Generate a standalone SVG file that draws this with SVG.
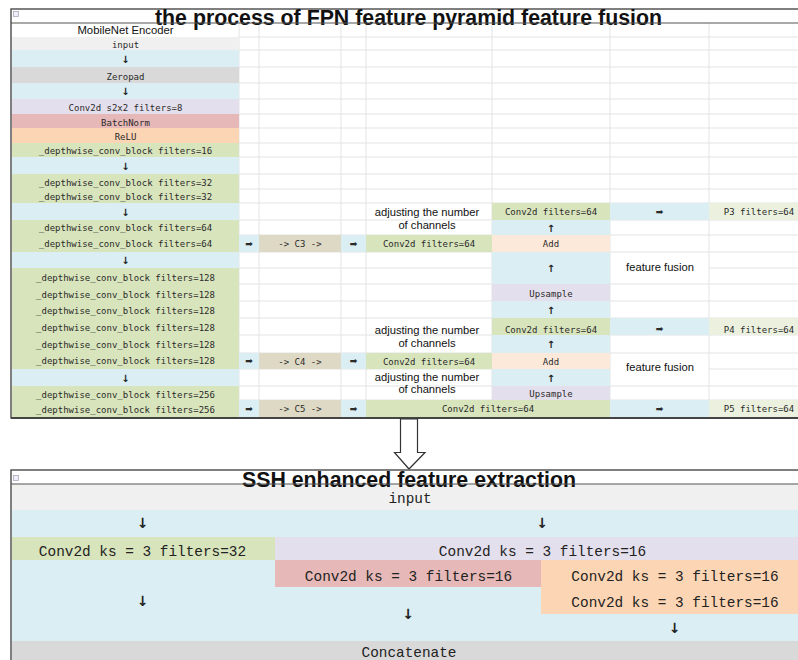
<svg xmlns="http://www.w3.org/2000/svg" width="798" height="660" viewBox="0 0 798 660">
<style>
.m{font-family:"DejaVu Sans Mono","Liberation Mono",monospace;font-size:9px;fill:#2a2a2a;text-anchor:middle}
.L{font-family:"Liberation Mono","DejaVu Sans Mono",monospace;font-size:14.4px;fill:#222;text-anchor:middle}
.s{font-family:"Liberation Sans",Arial,sans-serif;font-size:11.2px;fill:#111;text-anchor:middle}
.t{font-family:"Liberation Sans",Arial,sans-serif;font-size:21.3px;font-weight:bold;fill:#111}
.ar{font-family:"DejaVu Sans",sans-serif;font-weight:bold;font-size:10px;fill:#222;text-anchor:middle}
.arL{font-family:"DejaVu Sans",sans-serif;font-weight:bold;font-size:14px;fill:#222;text-anchor:middle}
.g{stroke:#e3e3e3;stroke-width:1;fill:none}
.frame{fill:none;stroke:#555;stroke-width:1.5}
.blu{fill:#daeef3}.grn{fill:#d8e4bc}.gry{fill:#f0f0f0}.dg{fill:#d9d9d9}.pur{fill:#e4dfec}.red{fill:#e6b8b7}.org{fill:#fcd5b4}.tan{fill:#ddd9c4}.pch{fill:#fde9d9}.pg{fill:#ebf1de}
</style>
<rect width="798" height="660" fill="#fff"/>

<!-- top frame grid -->
<g id="fpn-grid" class="g">
<path d="M239 37H798M239 50H798M239 67H798M239 83H798M239 99H798M239 114H798M239 128H798M239 143H798M239 157H798M239 174H798M239 189H798M239 203H798M239 220H798M239 235H798M239 252H798M239 268H610M709 268H798M239 284H798M239 301H798M239 318H798M239 335H798M239 353H798M239 369H610M709 369H798M239 386H798M239 400H798"/>
<path d="M239 23V417M259 23V417M341 23V417M366 23V417M492 23V417M610 23V417M709 23V417"/>
</g>

<g id="fpn-title">
<rect x="11" y="9" width="790" height="409" class="frame"/>
<rect x="13.5" y="11.5" width="5" height="5" fill="#eef" stroke="#aab" stroke-width="0.8"/>
<text x="155" y="25" class="t" textLength="507" lengthAdjust="spacingAndGlyphs">the process of FPN feature pyramid feature fusion</text>
<line x1="11" y1="23" x2="798" y2="23" stroke="#555" stroke-width="1.2"/>
</g>

<g id="encoder">
<text x="125.5" y="34.3" class="s" style="font-size:11.3px">MobileNet Encoder</text>
<g id="enc-input"><rect x="12" y="37" width="227" height="13" class="gry"/><text x="125.5" y="47.5" class="m">input</text></g>
<g id="enc-a1"><rect x="12" y="50" width="227" height="17" class="blu"/><text x="125.5" y="62.5" class="ar">↓</text></g>
<g id="enc-zeropad"><rect x="12" y="67" width="227" height="16" class="dg"/><text x="125.5" y="79.5" class="m">Zeropad</text></g>
<g id="enc-a2"><rect x="12" y="83" width="227" height="16" class="blu"/><text x="125.5" y="95" class="ar">↓</text></g>
<g id="enc-conv"><rect x="12" y="99" width="227" height="15" class="pur"/><text x="125.5" y="111" class="m">Conv2d s2x2 filters=8</text></g>
<g id="enc-bn"><rect x="12" y="114" width="227" height="14" class="red"/><text x="125.5" y="125.5" class="m">BatchNorm</text></g>
<g id="enc-relu"><rect x="12" y="128" width="227" height="15" class="org"/><text x="125.5" y="139.5" class="m">ReLU</text></g>
<g id="enc-dw16"><rect x="12" y="143" width="227" height="14" class="grn"/><text x="125.5" y="154.3" class="m">_depthwise_conv_block filters=16</text></g>
<g id="enc-a3"><rect x="12" y="157" width="227" height="17" class="blu"/><text x="125.5" y="169.5" class="ar">↓</text></g>
<g id="enc-dw32"><rect x="12" y="174" width="227" height="29" class="grn"/><text x="125.5" y="185.7" class="m">_depthwise_conv_block filters=32</text><text x="125.5" y="200" class="m">_depthwise_conv_block filters=32</text></g>
<g id="enc-a4"><rect x="12" y="203" width="227" height="17" class="blu"/><text x="125.5" y="215.5" class="ar">↓</text></g>
<g id="enc-dw64"><rect x="12" y="220" width="227" height="32" class="grn"/><text x="125.5" y="231" class="m">_depthwise_conv_block filters=64</text><text x="125.5" y="246.7" class="m">_depthwise_conv_block filters=64</text></g>
<g id="enc-a5"><rect x="12" y="252" width="227" height="16" class="blu"/><text x="125.5" y="264" class="ar">↓</text></g>
<g id="enc-dw128"><rect x="12" y="268" width="227" height="101" class="grn"/>
<text x="125.5" y="280.7" class="m">_depthwise_conv_block filters=128</text>
<text x="125.5" y="297.5" class="m">_depthwise_conv_block filters=128</text>
<text x="125.5" y="314.3" class="m">_depthwise_conv_block filters=128</text>
<text x="125.5" y="331" class="m">_depthwise_conv_block filters=128</text>
<text x="125.5" y="347.5" class="m">_depthwise_conv_block filters=128</text>
<text x="125.5" y="364.3" class="m">_depthwise_conv_block filters=128</text></g>
<g id="enc-a6"><rect x="12" y="369" width="227" height="17" class="blu"/><text x="125.5" y="381.5" class="ar">↓</text></g>
<g id="enc-dw256"><rect x="12" y="386" width="227" height="31" class="grn"/><text x="125.5" y="397.5" class="m">_depthwise_conv_block filters=256</text><text x="125.5" y="412.5" class="m">_depthwise_conv_block filters=256</text></g>
</g>

<g id="c3-row">
<rect x="239" y="235" width="20" height="17" class="blu"/><text x="249" y="246.5" class="m" style="font-family:'DejaVu Sans'">➡</text>
<rect x="259" y="235" width="82" height="17" class="tan"/><text x="300" y="247" class="m">-&gt; C3 -&gt;</text>
<rect x="341" y="235" width="25" height="17" class="blu"/><text x="353.5" y="246.5" class="m" style="font-family:'DejaVu Sans'">➡</text>
<rect x="366" y="235" width="126" height="17" class="grn"/><text x="429" y="247" class="m">Conv2d filters=64</text>
</g>
<g id="c4-row">
<rect x="239" y="353" width="20" height="16" class="blu"/><text x="249" y="364" class="m" style="font-family:'DejaVu Sans'">➡</text>
<rect x="259" y="353" width="82" height="16" class="tan"/><text x="300" y="364.5" class="m">-&gt; C4 -&gt;</text>
<rect x="341" y="353" width="25" height="16" class="blu"/><text x="353.5" y="364" class="m" style="font-family:'DejaVu Sans'">➡</text>
<rect x="366" y="353" width="126" height="16" class="grn"/><text x="429" y="364.5" class="m">Conv2d filters=64</text>
</g>
<g id="c5-row">
<rect x="239" y="400" width="20" height="17" class="blu"/><text x="249" y="411.5" class="m" style="font-family:'DejaVu Sans'">➡</text>
<rect x="259" y="400" width="82" height="17" class="tan"/><text x="300" y="412" class="m">-&gt; C5 -&gt;</text>
<rect x="341" y="400" width="25" height="17" class="blu"/><text x="353.5" y="411.5" class="m" style="font-family:'DejaVu Sans'">➡</text>
<rect x="366" y="400" width="244" height="17" class="grn"/><text x="488" y="412" class="m">Conv2d filters=64</text>
<rect x="610" y="400" width="99" height="17" class="blu"/><text x="659.5" y="411.5" class="m" style="font-family:'DejaVu Sans'">➡</text>
<rect x="709" y="400" width="90" height="17" class="pg"/><text x="759" y="412" class="m">P5 filters=64</text>
</g>

<g id="fpn-top">
<rect x="492" y="203" width="118" height="17" class="grn"/><text x="551" y="215" class="m">Conv2d filters=64</text>
<rect x="610" y="203" width="99" height="17" class="blu"/><text x="659.5" y="214.5" class="m" style="font-family:'DejaVu Sans'">➡</text>
<rect x="709" y="203" width="90" height="17" class="pg"/><text x="759" y="215" class="m">P3 filters=64</text>
<rect x="492" y="220" width="118" height="15" class="blu"/><text x="551" y="231.5" class="ar">↑</text>
<rect x="492" y="235" width="118" height="17" class="pch"/><text x="551" y="247" class="m">Add</text>
<rect x="492" y="252" width="118" height="32" class="blu"/><text x="551" y="272" class="ar">↑</text>
<rect x="492" y="284" width="118" height="17" class="pur"/><text x="551" y="297" class="m">Upsample</text>
<rect x="492" y="301" width="118" height="17" class="blu"/><text x="551" y="314" class="ar">↑</text>
</g>
<g id="fpn-mid">
<rect x="492" y="318" width="118" height="17" class="grn"/><text x="551" y="332.5" class="m">Conv2d filters=64</text>
<rect x="610" y="318" width="99" height="17" class="blu"/><text x="659.5" y="332" class="m" style="font-family:'DejaVu Sans'">➡</text>
<rect x="709" y="318" width="90" height="17" class="pg"/><text x="759" y="332.5" class="m">P4 filters=64</text>
<rect x="492" y="335" width="118" height="18" class="blu"/><text x="551" y="348" class="ar">↑</text>
<rect x="492" y="353" width="118" height="16" class="pch"/><text x="551" y="364.5" class="m">Add</text>
<rect x="492" y="369" width="118" height="17" class="blu"/><text x="551" y="381.7" class="ar">↑</text>
<rect x="492" y="386" width="118" height="14" class="pur"/><text x="551" y="397" class="m">Upsample</text>
</g>
<g id="fpn-labels">
<text x="427" y="216" class="s">adjusting the number</text><text x="427" y="228.5" class="s">of channels</text>
<text x="427" y="334" class="s">adjusting the number</text><text x="427" y="346.7" class="s">of channels</text>
<text x="427" y="381" class="s">adjusting the number</text><text x="427" y="393.3" class="s">of channels</text>
<text x="660" y="271" class="s">feature fusion</text>
<text x="660" y="370.7" class="s">feature fusion</text>
</g>
<line x1="11" y1="418" x2="798" y2="418" stroke="#444" stroke-width="2"/>

<g id="connectors">
<polygon points="400.5,419 417.5,419 417.5,452.5 425,452.5 409,469 394.5,452.5 400.5,452.5" fill="#fff" stroke="#333" stroke-width="1.2"/>
</g>

<g id="ssh">
<rect x="11" y="470" width="790" height="195" class="frame"/>
<rect x="13.5" y="475.5" width="5" height="5" fill="#eef" stroke="#aab" stroke-width="0.8"/>
<g id="ssh-input"><rect x="12" y="484" width="787" height="26" class="gry"/><text x="410" y="502.5" class="L">input</text></g>
<rect x="12" y="510" width="787" height="27" class="blu"/>
<text x="142.5" y="528" class="arL">↓</text><text x="542" y="528" class="arL">↓</text>
<g id="ssh-c32"><rect x="12" y="537" width="263" height="23" class="grn"/><text x="142.5" y="555.7" class="L">Conv2d ks = 3 filters=32</text></g>
<g id="ssh-c16a"><rect x="275" y="537" width="524" height="23" class="pur"/><text x="542.5" y="555.7" class="L">Conv2d ks = 3 filters=16</text></g>
<rect x="12" y="560" width="263" height="81" class="blu"/>
<g id="ssh-c16b"><rect x="275" y="560" width="266" height="27" class="red"/><text x="408.5" y="580.7" class="L">Conv2d ks = 3 filters=16</text></g>
<g id="ssh-c16c"><rect x="541" y="560" width="258" height="54" class="org"/><text x="675" y="580.7" class="L">Conv2d ks = 3 filters=16</text><text x="675" y="607.3" class="L">Conv2d ks = 3 filters=16</text></g>
<rect x="275" y="587" width="266" height="54" class="blu"/>
<rect x="541" y="614" width="258" height="27" class="blu"/>
<text x="142.5" y="606" class="arL">↓</text><text x="408" y="619" class="arL">↓</text><text x="674.5" y="633" class="arL">↓</text>
<g id="ssh-concat"><rect x="12" y="641" width="787" height="20" class="dg"/><text x="409" y="656.5" class="L">Concatenate</text></g>
<text x="242" y="487" class="t" textLength="334" lengthAdjust="spacingAndGlyphs">SSH enhanced feature extraction</text>
<line x1="11" y1="484" x2="798" y2="484" stroke="#555" stroke-width="1.2"/>
</g>
</svg>
